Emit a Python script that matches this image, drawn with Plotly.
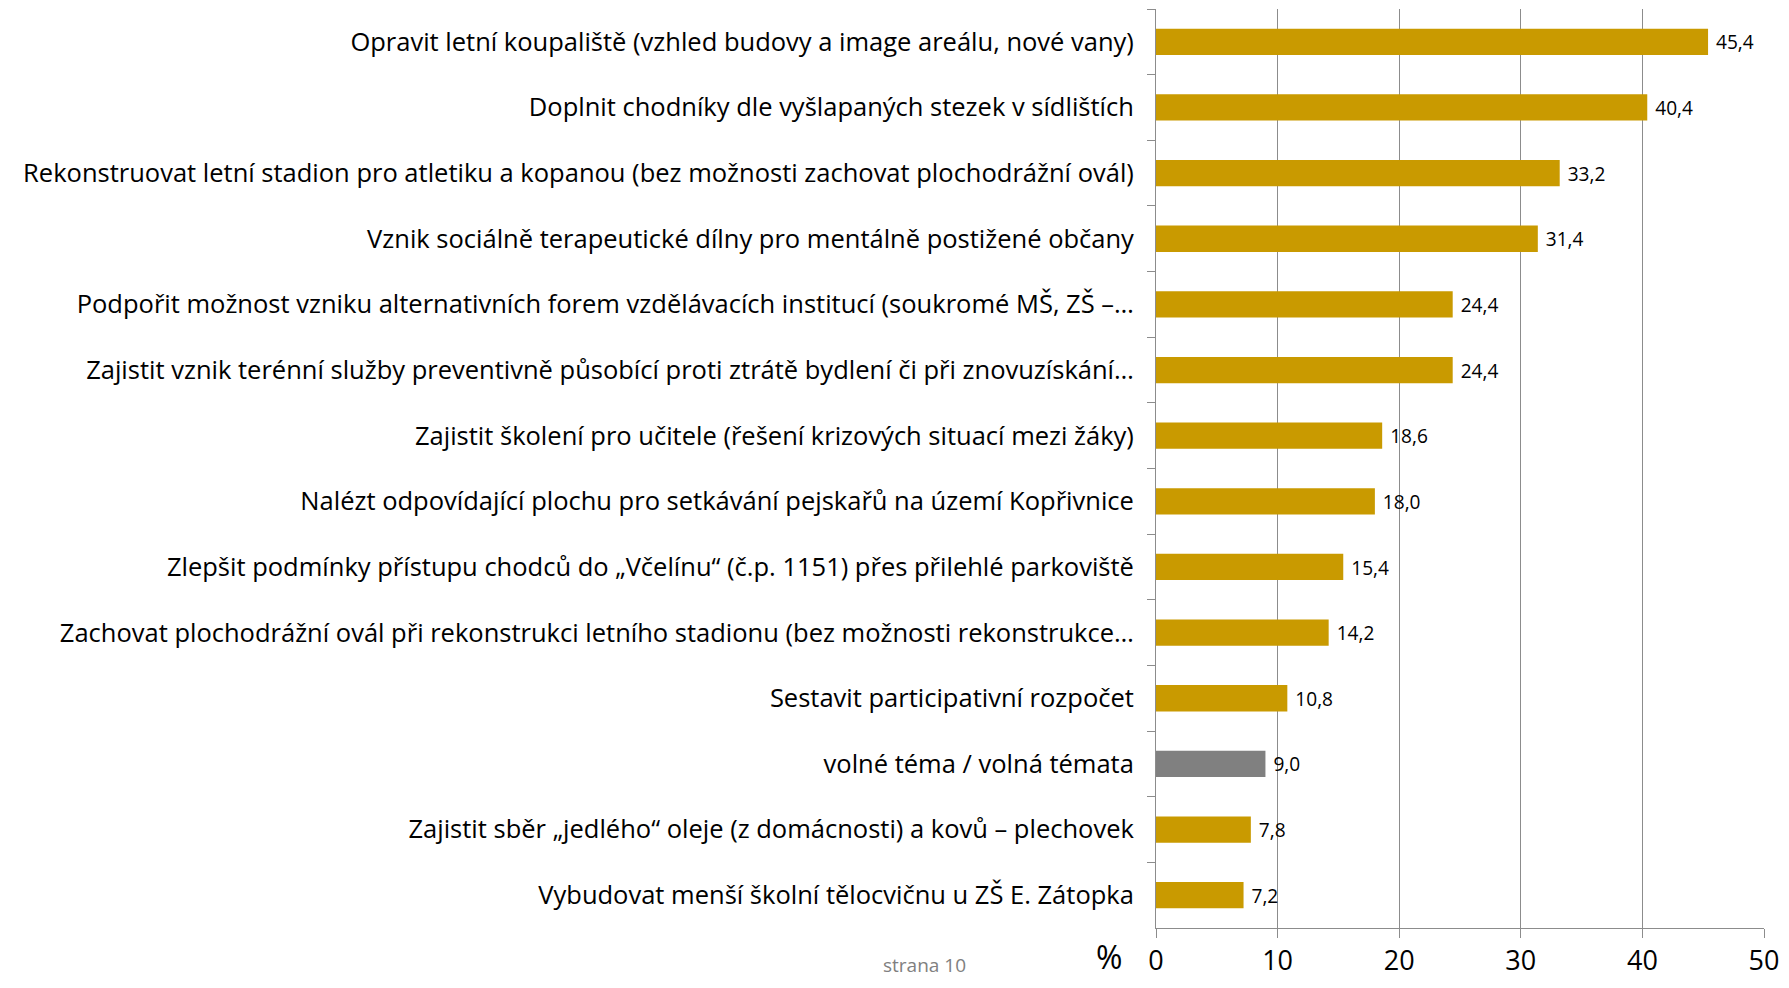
import plotly.graph_objects as go

# categories top to bottom, values in %
categories = [
    "Opravit letní koupaliště (vzhled budovy a image areálu, nové vany)",
    "Doplnit chodníky dle vyšlapaných stezek v sídlištích",
    "Rekonstruovat letní stadion pro atletiku a kopanou (bez možnosti zachovat plochodrážní ovál)",
    "Vznik sociálně terapeutické dílny pro mentálně postižené občany",
    "Podpořit možnost vzniku alternativních forem vzdělávacích institucí (soukromé MŠ, ZŠ –…",
    "Zajistit vznik terénní služby preventivně působící proti ztrátě bydlení či při znovuzískání…",
    "Zajistit školení pro učitele (řešení krizových situací mezi žáky)",
    "Nalézt odpovídající plochu pro setkávání pejskařů na území Kopřivnice",
    "Zlepšit podmínky přístupu chodců do „Včelínu“ (č.p. 1151) přes přilehlé parkoviště",
    "Zachovat plochodrážní ovál při rekonstrukci letního stadionu (bez možnosti rekonstrukce…",
    "Sestavit participativní rozpočet",
    "volné téma / volná témata",
    "Zajistit sběr „jedlého“ oleje (z domácnosti) a kovů – plechovek",
    "Vybudovat menší školní tělocvičnu u ZŠ E. Zátopka",
]
values = [45.4, 40.4, 33.2, 31.4, 24.4, 24.4, 18.6, 18.0, 15.4, 14.2, 10.8, 9.0, 7.8, 7.2]
x_ticks = [0, 10, 20, 30, 40, 50]

gold = "#C99A00"
grey = "#808080"
colors = [grey if c.startswith("volné") else gold for c in categories]

fnt = "Open Sans"

fig = go.Figure()
fig.add_trace(go.Bar(
    x=values,
    y=categories,
    orientation="h",
    marker=dict(color=colors, line=dict(width=0)),
    texttemplate="\u00a0%{x:.1f}",
    textposition="outside",
    textfont=dict(size=24, color="#000000", family=fnt),
    cliponaxis=False,
))

# page body has an 8px margin, so keep the figure inside 1773x972
fig.update_layout(
    width=1773, height=972,
    margin=dict(l=1148, r=17, t=1, b=52),
    paper_bgcolor="white",
    plot_bgcolor="white",
    separators=", ",
    bargap=0.6,
    showlegend=False,
    font=dict(family=fnt, color="#000000"),
    xaxis=dict(
        range=[0, 50],
        tickvals=x_ticks,
        showgrid=True, gridcolor="#8C8C8C", gridwidth=1,
        showline=True, linecolor="#8C8C8C", linewidth=1,
        ticks="outside", ticklen=9, tickcolor="#8C8C8C",
        tickfont=dict(size=27, family=fnt, color="#000000"),
        ticklabeloverflow="allow",
        automargin=False,
        zeroline=False,
        fixedrange=True,
    ),
    yaxis=dict(
        autorange="reversed",
        showline=True, linecolor="#8C8C8C", linewidth=1,
        ticks="outside", ticklen=8, tickcolor="#8C8C8C",
        tickson="boundaries",
        ticklabelstandoff=16,
        tickfont=dict(size=25.5, family=fnt, color="#000000"),
        automargin=False,
        fixedrange=True,
    ),
    annotations=[
        dict(text="%", xref="paper", yref="paper", x=-0.078, y=-0.031,
             xanchor="center", yanchor="middle",
             showarrow=False, font=dict(size=32, color="#000000")),
        dict(text="strana 10", xref="paper", yref="paper", x=-0.38, y=-0.040,
             xanchor="center", yanchor="middle",
             showarrow=False, font=dict(size=19, color="#808080")),
    ],
)

fig.write_html("out.html")
